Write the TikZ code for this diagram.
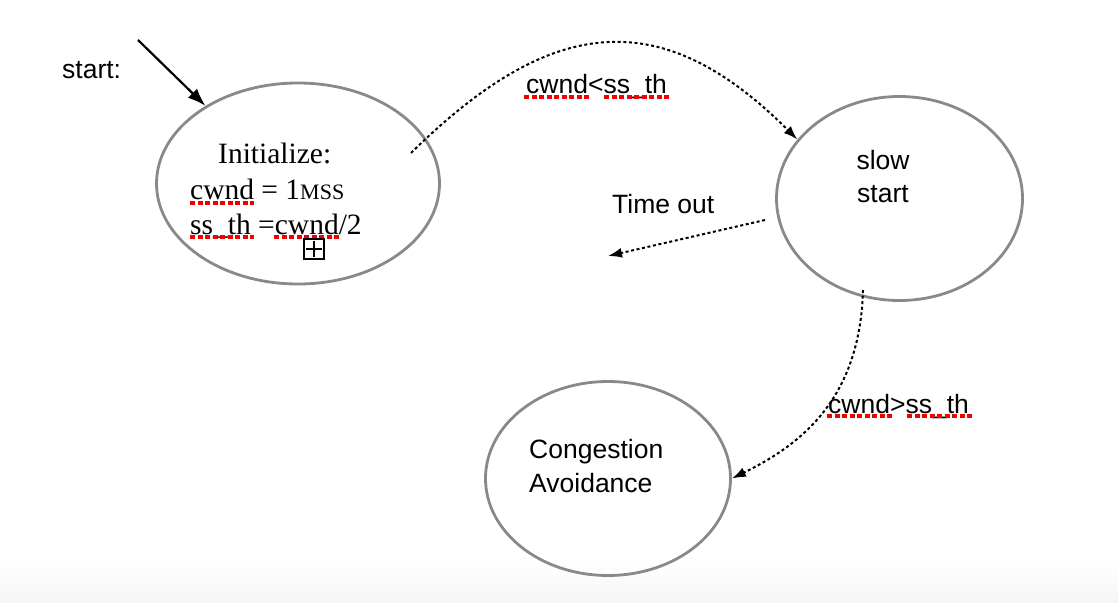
\documentclass[tikz,border=0pt]{standalone}
\usepackage{fontspec}
\setmainfont{Liberation Serif}
\setsansfont{Liberation Sans}
\usetikzlibrary{shapes.geometric,arrows.meta}
\definecolor{ringgray}{HTML}{88898D}
\definecolor{squig}{HTML}{F00000}
\begin{document}
\begin{tikzpicture}[x=1pt,y=-1pt,
  state/.style={draw=ringgray,line width=2.8pt,ellipse,inner sep=0pt},
  lbl/.style={font=\sffamily\fontsize{26.5}{31}\selectfont,inner sep=0pt,anchor=base west},
  serif/.style={font=\rmfamily\fontsize{29.5}{35}\selectfont,inner sep=0pt,anchor=base west},
  dotconn/.style={line width=2pt,dash pattern=on 3pt off 2.6pt,-{Latex[length=14pt,width=10pt]}},
  squiggle/.style={draw=squig,line width=3.3pt,dash pattern=on 5pt off 2.5pt}
]
\useasboundingbox (0,0) rectangle (1118,602);
\shade[top color=white,bottom color=black!4] (0,562) rectangle (1118,602);

% states
\node[state,minimum width=283pt,minimum height=201pt] (init) at (298,183.5) {};
\node[state,minimum width=246pt,minimum height=204pt] (ss) at (899.5,198.5) {};
\node[state,minimum width=245pt,minimum height=194pt] (ca) at (608,478.5) {};

% initialize text
\node[serif] (l1) at (218,163) {Initialize:};
\node[serif] (l2) at (190,199) {cwnd = 1{\fontsize{22}{22}\selectfont MSS}};
\node[serif] (l3) at (190,234) {ss\_th =cwnd/2};
\draw[squiggle] (190,203) -- (254,203);
\draw[squiggle] (190,237) -- (254,237);
\draw[squiggle] (274,237) -- (340,237);
\node[draw,line width=1.4pt,minimum size=20pt,inner sep=0pt] (plusbox) at (314,249) {};
\draw[line width=1.4pt] ([yshift=-3pt]plusbox.north) -- ([yshift=3pt]plusbox.south)
  ([xshift=3pt]plusbox.west) -- ([xshift=-3pt]plusbox.east);

% other state texts
\node[lbl,anchor=base] (ss1) at (883,169) {slow};
\node[lbl,anchor=base] (ss2) at (883,202) {start};
\node[lbl] (ca1) at (529,458) {Congestion};
\node[lbl] (ca2) at (529,492) {Avoidance};

% labels
\node[lbl] (startlbl) at (62,78) {start:};
\node[lbl] (lt) at (526,93) {cwnd<ss\_th};
\draw[squiggle] (524,97) -- (590,97);
\draw[squiggle] (604,97) -- (671,97);
\node[lbl] (to) at (612,213) {Time out};
\node[lbl] (gt) at (828,413) {cwnd>ss\_th};
\draw[squiggle] (827,416) -- (893,416);
\draw[squiggle] (907,416) -- (973,416);

% connectors
\coordinate (startfrom) at (138,40);
\draw[line width=2.2pt,-{Latex[length=18pt,width=13pt]}] (startfrom) -- (init.140);
\coordinate (c1) at (411,153);
\draw[dotconn] (c1) .. controls (552,14) and (662,4) .. (ss.150);
\coordinate (t1) at (765,220);
\coordinate (t2) at (608,256);
\draw[dotconn] (t1) -- (t2);
\coordinate (c3) at (863,290);
\draw[dotconn] (c3) .. controls (860,400) and (800,445) .. (ca.east);
\end{tikzpicture}
\end{document}
